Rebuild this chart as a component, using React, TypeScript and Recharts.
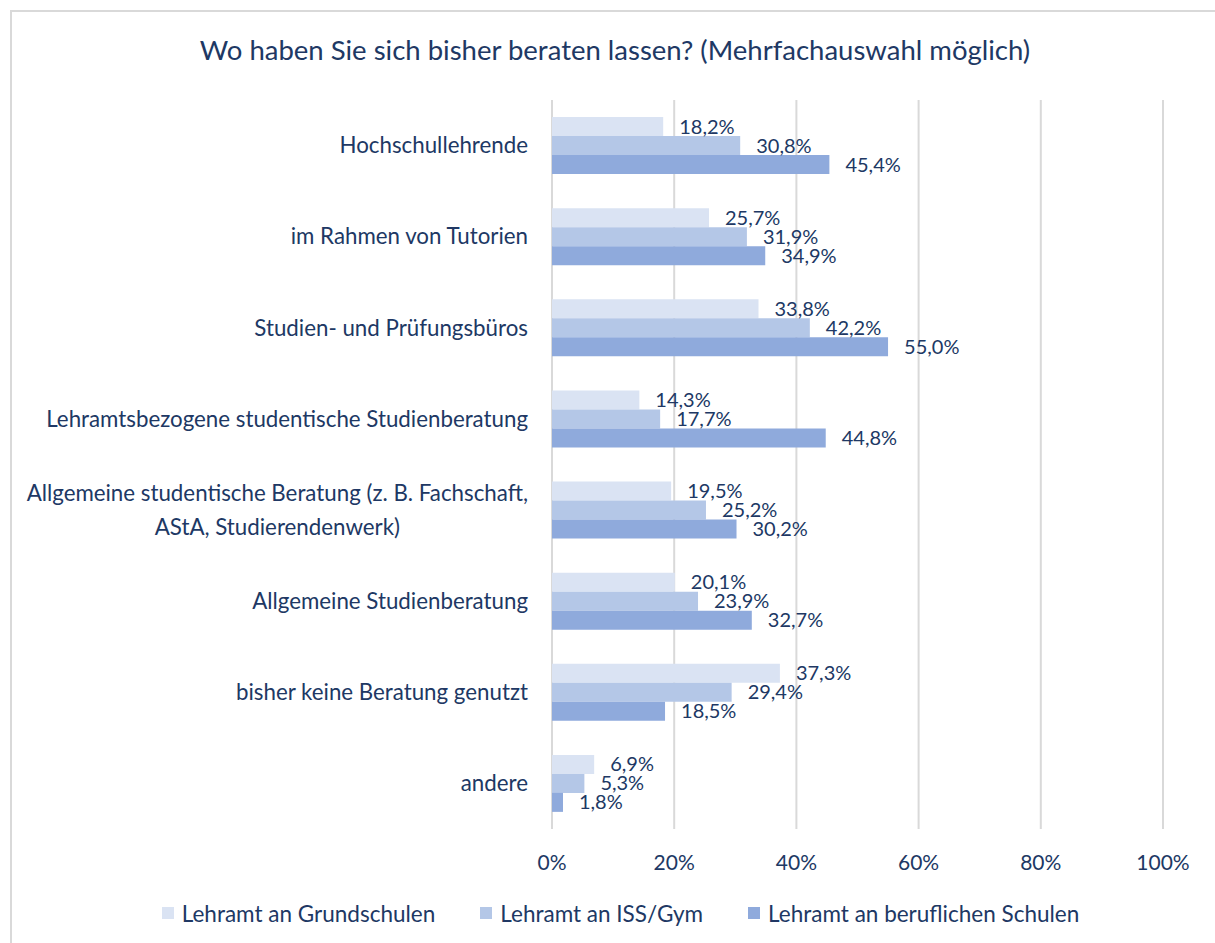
import { BarChart, Bar, XAxis, YAxis, CartesianGrid, Legend, LabelList } from 'recharts'

const categories = [
  'Hochschullehrende',
  'im Rahmen von Tutorien',
  'Studien- und Prüfungsbüros',
  'Lehramtsbezogene studentische Studienberatung',
  'Allgemeine studentische Beratung (z. B. Fachschaft,\nAStA, Studierendenwerk)',
  'Allgemeine Studienberatung',
  'bisher keine Beratung genutzt',
  'andere',
]

const grundschulen = [18.2, 25.7, 33.8, 14.3, 19.5, 20.1, 37.3, 6.9]
const issGym = [30.8, 31.9, 42.2, 17.7, 25.2, 23.9, 29.4, 5.3]
const beruflich = [45.4, 34.9, 55.0, 44.8, 30.2, 32.7, 18.5, 1.8]

const seriesNames = ['Lehramt an Grundschulen', 'Lehramt an ISS/Gym', 'Lehramt an beruflichen Schulen']
const xTicks = [0, 20, 40, 60, 80, 100]

const COLORS = ['#dae3f3', '#b4c7e7', '#8faadc']
const NAVY = '#203864'
const GRID = '#d9d9d9'
const FONT = 'Lato, "Noto Sans", sans-serif'
const CAT_SIZE = 22.3

const data = categories.map((name, i) => ({
  name,
  grund: grundschulen[i],
  iss: issGym[i],
  beruf: beruflich[i],
}))

let ctx: CanvasRenderingContext2D | null = null
const measure = (s: string) => {
  if (!ctx) ctx = document.createElement('canvas').getContext('2d')
  if (!ctx) return s.length * CAT_SIZE * 0.5
  ctx.font = `${CAT_SIZE}px Lato`
  return ctx.measureText(s).width
}

// single lines right-aligned, wrapped labels centred on their widest line
function CategoryTick({ x, y, payload }: any) {
  const lines = String(payload.value).split('\n')
  if (lines.length === 1) {
    return (
      <text x={x} y={y} dy="0.35em" textAnchor="end" fill={NAVY} fontSize={CAT_SIZE} fontFamily={FONT}>
        {lines[0]}
      </text>
    )
  }
  const widest = Math.max(...lines.map(measure))
  const cx = x - widest / 2
  const lh = 34
  return (
    <text textAnchor="middle" fill={NAVY} fontSize={CAT_SIZE} fontFamily={FONT}>
      {lines.map((l, i) => (
        <tspan key={i} x={cx} y={y + (i - (lines.length - 1) / 2) * lh} dy="0.35em">
          {l}
        </tspan>
      ))}
    </text>
  )
}

const pct = (v: any) => `${Number(v).toFixed(1).replace('.', ',')}%`

function LegendContent({ payload }: any) {
  return (
    <div
      style={{
        height: 60,
        display: 'flex',
        justifyContent: 'center',
        alignItems: 'center',
        gap: 45,
        fontFamily: FONT,
        fontSize: 22.5,
        color: NAVY,
        paddingLeft: 78,
      }}
    >
      {(payload || []).map((p: any) => (
        <div key={p.value} style={{ display: 'flex', alignItems: 'center' }}>
          <span style={{ width: 12, height: 12, background: p.color, marginRight: 8, display: 'inline-block' }} />
          {p.value}
        </div>
      ))}
    </div>
  )
}

export default function App() {
  return (
    <div style={{ position: 'absolute', left: 0, top: 0, width: 1215, height: 943, overflow: 'hidden', background: '#fff' }}>
      <div
        style={{
          position: 'absolute',
          left: 10,
          top: 10,
          width: 1220,
          height: 950,
          border: `2px solid ${GRID}`,
          boxSizing: 'border-box',
        }}
      />
      <div
        style={{
          position: 'absolute',
          left: 0,
          top: 35,
          width: 1230,
          textAlign: 'center',
          fontFamily: FONT,
          fontSize: 27.5,
          lineHeight: '30px',
          color: NAVY,
        }}
      >
        Wo haben Sie sich bisher beraten lassen? (Mehrfachauswahl möglich)
      </div>
      <div style={{ position: 'absolute', left: 0, top: 0 }}>
        <BarChart
          width={1215}
          height={943}
          data={data}
          layout="vertical"
          margin={{ top: 100, right: 52, bottom: 0, left: 0 }}
          barSize={19}
          barGap={0}
        >
          <CartesianGrid horizontal={false} stroke={GRID} strokeWidth={2} />
          <XAxis
            type="number"
            domain={[0, 100]}
            ticks={xTicks}
            tickFormatter={(v) => `${v}%`}
            axisLine={false}
            tickLine={false}
            tickMargin={20}
            height={54}
            tick={{ fill: NAVY, fontSize: 21, fontFamily: FONT }}
          />
          <YAxis
            type="category"
            dataKey="name"
            width={552}
            axisLine={false}
            tickLine={false}
            tickMargin={18}
            interval={0}
            tick={<CategoryTick />}
          />
          <Legend verticalAlign="bottom" content={<LegendContent />} />
          <Bar dataKey="grund" name={seriesNames[0]} fill={COLORS[0]} isAnimationActive={false}>
            <LabelList dataKey="grund" position="right" offset={16} formatter={pct} fill={NAVY} fontSize={20} fontFamily={FONT} />
          </Bar>
          <Bar dataKey="iss" name={seriesNames[1]} fill={COLORS[1]} isAnimationActive={false}>
            <LabelList dataKey="iss" position="right" offset={16} formatter={pct} fill={NAVY} fontSize={20} fontFamily={FONT} />
          </Bar>
          <Bar dataKey="beruf" name={seriesNames[2]} fill={COLORS[2]} isAnimationActive={false}>
            <LabelList dataKey="beruf" position="right" offset={16} formatter={pct} fill={NAVY} fontSize={20} fontFamily={FONT} />
          </Bar>
        </BarChart>
      </div>
    </div>
  )
}
